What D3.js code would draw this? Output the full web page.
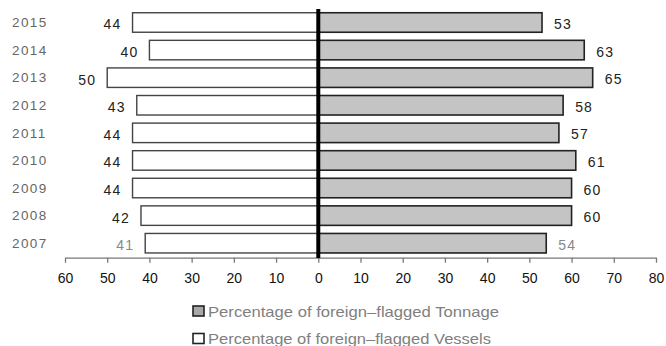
<!DOCTYPE html>
<html>
<head>
<meta charset="utf-8">
<script src="https://cdn.jsdelivr.net/npm/d3@7"></script>
<style>
  html, body { margin: 0; padding: 0; background: #fff; }
  svg { display: block; font-family: "Liberation Sans", Arial, sans-serif; }
</style>
</head>
<body>
<svg id="chart" width="666" height="346"></svg>
<script>
// Foreign-flagged share of the fleet, 2007–2015 (%)
const years = ["2015", "2014", "2013", "2012", "2011", "2010", "2009", "2008", "2007"];
const vessels = [44, 40, 50, 43, 44, 44, 44, 42, 41];
const tonnage = [53, 63, 65, 58, 57, 61, 60, 60, 54];
const tickValues = [-60, -50, -40, -30, -20, -10, 0, 10, 20, 30, 40, 50, 60, 70, 80];
const legendLabels = ["Percentage of foreign\u2013flagged Tonnage", "Percentage of foreign\u2013flagged Vessels"];

const svg = d3.select("#chart");

const x = d3.scaleLinear().domain([-60, 80]).range([65, 656]);
const y = d3.scaleBand().domain(years).range([8.7, 257]).paddingInner(0.293).paddingOuter(0.1465);

const rows = years.map((yr, i) => ({ year: yr, v: vessels[i], t: tonnage[i], last: yr === "2007" }));

// Left side: vessels (white bars)
svg.append("g").selectAll("rect").data(rows).join("rect")
  .attr("x", d => x(-d.v))
  .attr("y", d => y(d.year))
  .attr("width", d => x(0) - x(-d.v))
  .attr("height", y.bandwidth())
  .attr("fill", "#fff")
  .attr("stroke", "#444")
  .attr("stroke-width", 1.4);

// Right side: tonnage (grey bars)
svg.append("g").selectAll("rect").data(rows).join("rect")
  .attr("x", x(0))
  .attr("y", d => y(d.year))
  .attr("width", d => x(d.t) - x(0))
  .attr("height", y.bandwidth())
  .attr("fill", "#c4c4c4")
  .attr("stroke", "#222")
  .attr("stroke-width", 1.6);

// Value labels
svg.append("g").selectAll("text").data(rows).join("text")
  .attr("x", d => x(-d.v) - 11)
  .attr("y", d => y(d.year) + y.bandwidth() / 2 + 7)
  .attr("text-anchor", "end")
  .attr("font-size", 14)
  .attr("letter-spacing", 1.2)
  .attr("fill", d => d.last ? "#888" : "#222")
  .text(d => d.v);

svg.append("g").selectAll("text").data(rows).join("text")
  .attr("x", d => x(d.t) + 12)
  .attr("y", d => y(d.year) + y.bandwidth() / 2 + 6.5)
  .attr("text-anchor", "start")
  .attr("font-size", 14)
  .attr("letter-spacing", 1.2)
  .attr("fill", d => d.last ? "#888" : "#222")
  .text(d => d.t);

// Year labels
svg.append("g").selectAll("text").data(rows).join("text")
  .attr("x", 12)
  .attr("y", d => y(d.year) + y.bandwidth() / 2 + 4.8)
  .attr("font-size", 13.5)
  .attr("letter-spacing", 1.4)
  .attr("fill", "#666")
  .text(d => d.year);

// Bottom axis
const axis = d3.axisBottom(x)
  .tickValues(tickValues)
  .tickFormat(d => Math.abs(d))
  .tickSize(5)
  .tickSizeOuter(0)
  .tickPadding(10);

const gAxis = svg.append("g")
  .attr("transform", "translate(0,257.7)")
  .call(axis);
gAxis.select(".domain").attr("stroke", "#777").attr("stroke-width", 1.3);
gAxis.selectAll(".tick line").attr("stroke", "#777").attr("stroke-width", 1.3);
gAxis.selectAll(".tick text")
  .attr("font-family", "Liberation Sans, Arial, sans-serif")
  .attr("font-size", 14)
  .attr("fill", "#111");

// Zero divider
svg.append("line")
  .attr("x1", x(0)).attr("x2", x(0))
  .attr("y1", 9).attr("y2", 258)
  .attr("stroke", "#000")
  .attr("stroke-width", 4);

// Legend
const legendFill = ["#a8a8a8", "#fff"];
const legendY = [311, 338.5];
const legendWidth = [291, 283];
const lg = svg.append("g");
legendLabels.forEach((lab, i) => {
  lg.append("rect")
    .attr("x", 193).attr("y", legendY[i] - 5)
    .attr("width", 11).attr("height", 10)
    .attr("fill", legendFill[i])
    .attr("stroke", "#222")
    .attr("stroke-width", 1.6);
  lg.append("text")
    .attr("x", 208).attr("y", legendY[i] + 5.5)
    .attr("font-size", 15)
    .attr("fill", "#808080")
    .attr("textLength", legendWidth[i])
    .attr("lengthAdjust", "spacingAndGlyphs")
    .text(lab);
});
</script>
</body>
</html>
